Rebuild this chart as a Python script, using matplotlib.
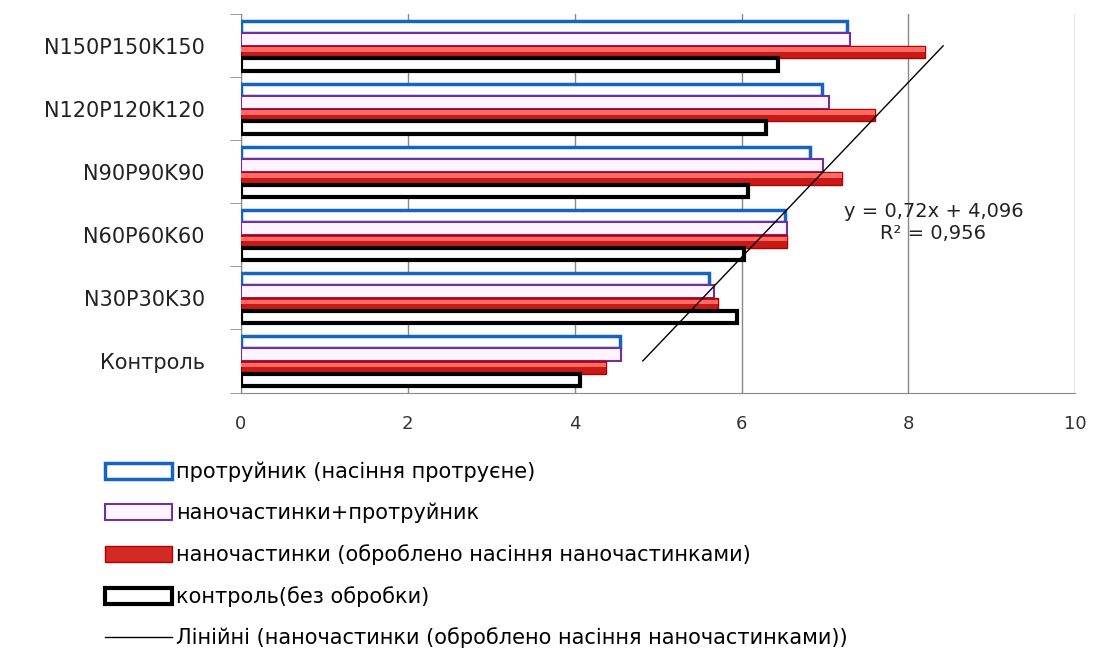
import numpy as np
import matplotlib.pyplot as plt
from matplotlib.patches import Patch
from matplotlib.lines import Line2D

plt.rcParams['font.family'] = ['DejaVu Sans']

categories = ["Контроль", "N30P30K30", "N60P60K60", "N90P90K90", "N120P120K120", "N150P150K150"]

protruynyk = [4.54, 5.61, 6.52, 6.82, 6.97, 7.26]
nano_protr = [4.56, 5.67, 6.54, 6.98, 7.05, 7.30]
nano = [4.38, 5.72, 6.54, 7.20, 7.60, 8.20]
control = [4.07, 5.94, 6.03, 6.08, 6.29, 6.44]

labels = ["протруйник (насіння протруєне)",
          "наночастинки+протруйник",
          "наночастинки (оброблено насіння наночастинками)",
          "контроль(без обробки)",
          "Лінійні (наночастинки (оброблено насіння наночастинками))"]

# лінійний тренд по ряду "наночастинки"
slope, intercept = 0.72, 4.096
eq_text = "y = 0,72x + 4,096\nR² = 0,956"

fig = plt.figure(figsize=(10.95, 6.52), dpi=100)
ax = fig.add_axes([0.22, 0.398, 0.762, 0.58])

y = np.arange(len(categories))
h = 0.2

ax.barh(y + 0.3, protruynyk, height=h, facecolor="white", edgecolor="#1565C0", linewidth=2.5, zorder=3)
ax.barh(y + 0.1, nano_protr, height=h, facecolor="#FFF4FF", edgecolor="#7030A0", linewidth=1.5, zorder=3)
ax.barh(y - 0.1, nano, height=h, facecolor="#C81A16", edgecolor="#B00000", linewidth=1, zorder=3)
ax.barh(y - 0.06, nano, height=0.07, facecolor="#FF6A64", edgecolor="none", zorder=3)
ax.barh(y - 0.3, control, height=h, facecolor="white", edgecolor="black", linewidth=3, zorder=3)

xt = np.array([0, len(categories) - 1])
ax.plot(slope * (xt + 1) + intercept, xt, color="black", linewidth=1, zorder=4)
ax.text(8.3, 2.2, eq_text, ha="center", va="center", fontsize=14, color="#222222", zorder=5)

ax.set_xlim(0, 10)
ax.set_ylim(-0.5, len(categories) - 0.5)
ax.set_xticks(range(0, 11, 2))
ax.set_xticklabels([str(v) for v in range(0, 11, 2)], fontsize=13, color="#333333")
ax.set_yticks(y)
ax.set_yticklabels(categories, fontsize=15, color="#222222")
ax.set_yticks(np.arange(-0.5, len(categories)), minor=True)
ax.tick_params(axis="y", which="major", length=0, pad=26)
ax.tick_params(axis="y", which="minor", length=8, color="#888888")
ax.tick_params(axis="x", length=0, pad=16)
ax.grid(axis="x", color="#888888", linewidth=1, zorder=0)
for s in ["top", "right"]:
    ax.spines[s].set_visible(False)
ax.spines["left"].set_color("#888888")
ax.spines["bottom"].set_color("#888888")

handles = [
    Patch(facecolor="white", edgecolor="#1565C0", linewidth=2.5),
    Patch(facecolor="#FFF4FF", edgecolor="#7030A0", linewidth=1.5),
    Patch(facecolor="#D42A25", edgecolor="#B00000", linewidth=1),
    Patch(facecolor="white", edgecolor="black", linewidth=3),
    Line2D([0], [0], color="black", linewidth=1),
]
fig.legend(handles, labels, loc="upper left", bbox_to_anchor=(0.096, 0.292),
           frameon=False, fontsize=15, handlelength=3.2, handleheight=0.8,
           handletextpad=0.2, labelspacing=1.0, borderaxespad=0, borderpad=0)

fig.savefig("out.png", dpi=100)
